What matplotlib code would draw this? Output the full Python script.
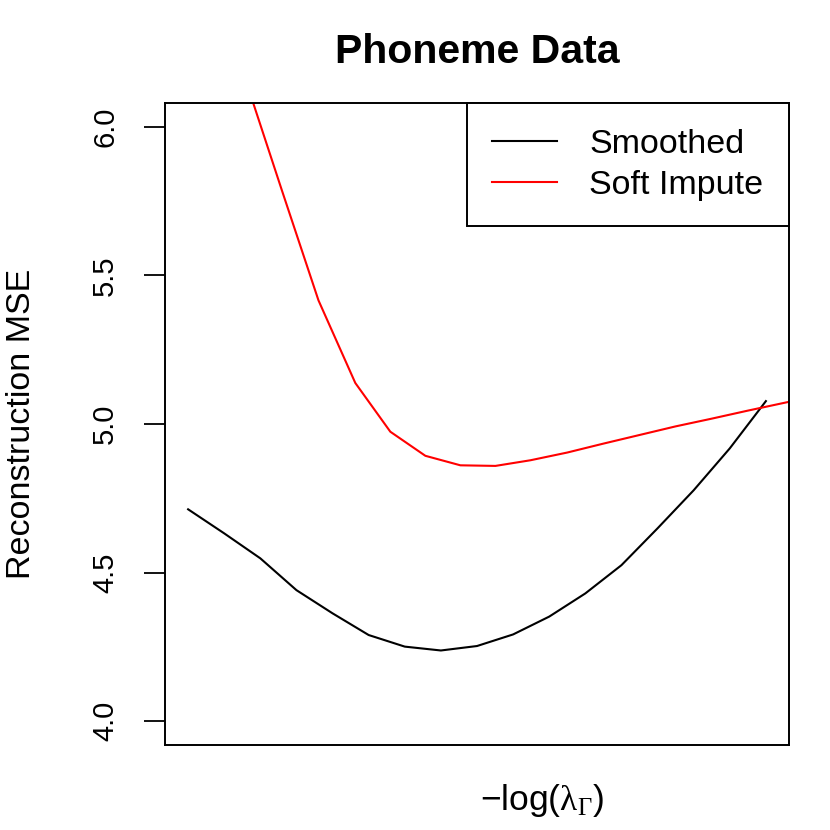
import matplotlib
matplotlib.use("Agg")
import matplotlib.pyplot as plt

# -log(lambda) grid positions (arbitrary units, no ticks shown on x)
x_smoothed = [0, 1, 2, 3, 4, 5, 6, 7, 8, 9, 10, 11, 12, 13, 14, 15, 16]
mse_smoothed = [4.713, 4.632, 4.548, 4.441, 4.363, 4.290, 4.251, 4.238, 4.253,
                4.292, 4.352, 4.430, 4.525, 4.649, 4.777, 4.918, 5.077]

x_soft = [1.60, 2.60, 3.61, 4.63, 5.60, 6.57, 7.54, 8.51, 9.48, 10.50,
          11.50, 12.50, 13.50, 14.50, 15.50, 16.50, 17.50]
mse_soft = [6.155, 5.785, 5.416, 5.138, 4.974, 4.893, 4.861, 4.859, 4.878,
            4.904, 4.934, 4.963, 4.992, 5.018, 5.045, 5.071, 5.097]

y_ticks = [4.0, 4.5, 5.0, 5.5, 6.0]

plt.rcParams.update({
    "font.family": ["Liberation Sans", "DejaVu Sans"],
    "mathtext.fontset": "custom",
    "mathtext.rm": "Liberation Sans",
    "mathtext.it": "Liberation Sans:italic",
    "mathtext.bf": "Liberation Sans:bold",
    "mathtext.sf": "Liberation Serif",
})

fig = plt.figure(figsize=(8.3, 8.3), dpi=100)
ax = fig.add_axes([165 / 830, 1 - 745 / 830, 624 / 830, 642 / 830])

ax.plot(x_smoothed, mse_smoothed, color="black", lw=1.5, label="Smoothed")
ax.plot(x_soft, mse_soft, color="red", lw=1.5, label="Soft Impute")

xr = x_smoothed[-1] - x_smoothed[0]
ax.set_xlim(x_smoothed[0] - 0.04 * xr, x_smoothed[-1] + 0.04 * xr)
ax.set_ylim(4.0 - 0.08, 6.0 + 0.08)

ax.set_xticks([])
ax.set_yticks(y_ticks)
ax.set_yticklabels([f"{v:.1f}" for v in y_ticks])
ax.tick_params(axis="y", length=15, width=1.3, labelsize=21, pad=18,
               labelrotation=90)
for lbl in ax.get_yticklabels():
    lbl.set_va("center")
for sp in ax.spines.values():
    sp.set_linewidth(1.4)

leg = ax.legend(loc="upper right", bbox_to_anchor=(1, 1), borderaxespad=0,
                fontsize=24.5, handlelength=1.9, handletextpad=0.95,
                labelspacing=0.3, borderpad=0.75, fancybox=False,
                framealpha=1, edgecolor="black")
leg.get_frame().set_linewidth(1.4)

fig.text(477 / 830, 1 - 52 / 830, "Phoneme Data", ha="center", va="center",
         fontsize=29.5, fontweight="bold")
fig.text(22 / 830, 1 - 424 / 830, "Reconstruction MSE", ha="center",
         va="center", rotation=90, fontsize=24.5)
fig.text(542 / 830, 1 - 800 / 830,
         r"$-\mathrm{log}(\mathsf{\lambda}_{\mathsf{\Gamma}})$",
         ha="center", va="center", fontsize=25.5)

fig.savefig("out.png", dpi=100, facecolor="white")
